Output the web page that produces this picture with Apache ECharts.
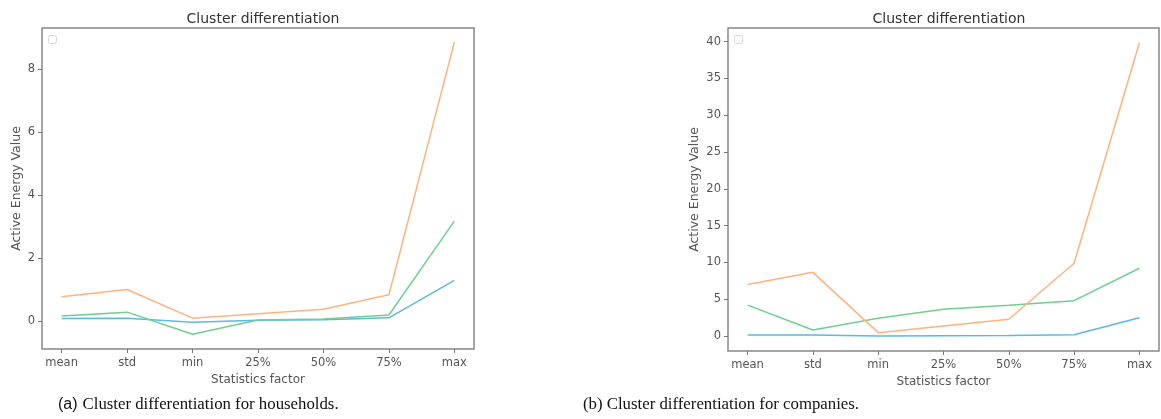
<!DOCTYPE html>
<html>
<head>
<meta charset="utf-8">
<script src="https://cdn.jsdelivr.net/npm/echarts@6/dist/echarts.min.js"></script>
<style>
  html, body { margin: 0; padding: 0; background: #fff; }
  #chart { width: 1161px; height: 419px; }
</style>
</head>
<body>
<div id="chart"></div>
<script>
// categories of the x axis
var factors = ['mean', 'std', 'min', '25%', '50%', '75%', 'max']

// (a) households
var houseOrange = [0.77, 1.0, 0.09, 0.23, 0.37, 0.83, 8.85]
var houseGreen = [0.16, 0.28, -0.42, 0.03, 0.06, 0.19, 3.17]
var houseBlue = [0.08, 0.09, -0.04, 0.02, 0.04, 0.1, 1.29]
var houseTicks = [0, 2, 4, 6, 8]

// (b) companies
var compOrange = [7.0, 8.65, 0.45, 1.36, 2.27, 9.88, 39.85]
var compGreen = [4.2, 0.82, 2.4, 3.63, 4.17, 4.8, 9.2]
var compBlue = [0.14, 0.15, 0.0, 0.02, 0.05, 0.18, 2.49]
var compTicks = [0, 5, 10, 15, 20, 25, 30, 35, 40]

var orange = '#ffb27c'
var green = '#6fcf8e'
var blue = '#5db8e2'
var font = 'DejaVu Sans'

var chart = echarts.init(document.getElementById('chart'))

function pairs(values) {
  var out = []
  for (var i = 0; i < values.length; i++) {
    out.push([i, values[i]])
  }
  return out
}

function xAxisFor(gridIndex) {
  return {
    type: 'value',
    gridIndex: gridIndex,
    min: -0.3,
    max: 6.3,
    name: 'Statistics factor',
    nameLocation: 'middle',
    nameGap: 25,
    nameTextStyle: { fontFamily: font, fontSize: 12, color: '#555' },
    axisLine: { show: false, onZero: false },
    splitLine: { show: false },
    axisTick: {
      show: true,
      length: 4,
      customValues: [0, 1, 2, 3, 4, 5, 6],
      lineStyle: { color: '#777', width: 1 }
    },
    axisLabel: {
      customValues: [0, 1, 2, 3, 4, 5, 6],
      formatter: function (v) { return factors[Math.round(v)] },
      fontFamily: font,
      fontSize: 11.5,
      color: '#555',
      margin: 8
    }
  }
}

function yAxisFor(gridIndex, min, max, ticks, gap) {
  return {
    type: 'value',
    gridIndex: gridIndex,
    min: min,
    max: max,
    name: 'Active Energy Value',
    nameLocation: 'middle',
    nameGap: gap,
    nameTextStyle: { fontFamily: font, fontSize: 12.5, color: '#555' },
    axisLine: { show: false, onZero: false },
    splitLine: { show: false },
    axisTick: {
      show: true,
      length: 4,
      customValues: ticks,
      lineStyle: { color: '#777', width: 1 }
    },
    axisLabel: {
      customValues: ticks,
      fontFamily: font,
      fontSize: 11.5,
      color: '#555',
      margin: 7
    }
  }
}

function line(gridIndex, values, color) {
  return {
    type: 'line',
    xAxisIndex: gridIndex,
    yAxisIndex: gridIndex,
    data: pairs(values),
    symbol: 'none',
    silent: true,
    lineStyle: { color: color, width: 1.5 }
  }
}

var titleStyle = { fontFamily: font, fontSize: 14, fontWeight: 'normal', color: '#333' }
var captionRich = {
  a: { fontFamily: 'Liberation Sans', fontSize: 16, fontWeight: 'normal', color: '#111' },
  b: { fontFamily: 'Liberation Serif', fontSize: 16.8, fontWeight: 'normal', color: '#111' }
}

chart.setOption({
  animation: false,
  title: [
    { text: 'Cluster differentiation', left: 258, top: 7, textAlign: 'center', textStyle: titleStyle },
    { text: 'Cluster differentiation', left: 944, top: 7, textAlign: 'center', textStyle: titleStyle },
    {
      text: '{a|(a)} {b|Cluster differentiation for households.}',
      left: 58, top: 396, padding: 0,
      textStyle: { fontWeight: 'normal', rich: captionRich }
    },
    {
      text: '{b|(b) Cluster differentiation for companies.}',
      left: 583, top: 396, padding: 0,
      textStyle: { fontWeight: 'normal', rich: captionRich }
    }
  ],
  grid: [
    { left: 42, right: 687, top: 28, bottom: 70, show: true, borderColor: '#888', borderWidth: 1.5 },
    { left: 728, right: 2, top: 28, bottom: 68, show: true, borderColor: '#888', borderWidth: 1.5 }
  ],
  xAxis: [xAxisFor(0), xAxisFor(1)],
  yAxis: [
    yAxisFor(0, -0.89, 9.3, houseTicks, 19),
    yAxisFor(1, -2.04, 41.85, compTicks, 27)
  ],
  graphic: [
    { type: 'rect', left: 48, top: 35, shape: { width: 8, height: 8, r: 2 }, style: { fill: '#fff', stroke: '#d8d8d8', lineWidth: 1 } },
    { type: 'rect', left: 734, top: 35, shape: { width: 8, height: 8, r: 2 }, style: { fill: '#fff', stroke: '#d8d8d8', lineWidth: 1 } }
  ],
  series: [
    line(0, houseBlue, blue),
    line(0, houseGreen, green),
    line(0, houseOrange, orange),
    line(1, compBlue, blue),
    line(1, compGreen, green),
    line(1, compOrange, orange)
  ]
})
</script>
</body>
</html>
